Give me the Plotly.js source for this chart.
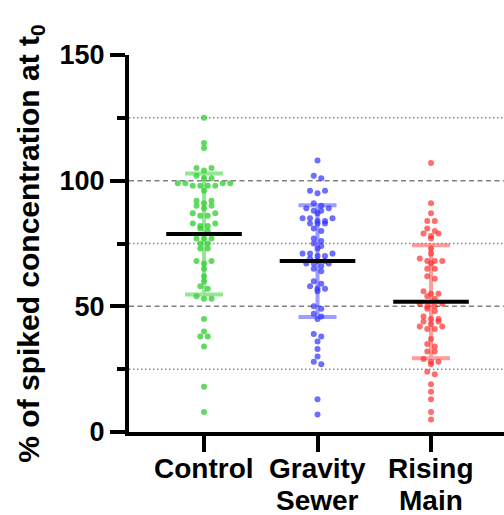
<!DOCTYPE html>
<html>
<head>
<meta charset="utf-8">
<script src="https://cdn.plot.ly/plotly-3.0.1.min.js"></script>
<style>
  html, body { margin: 0; padding: 0; background: #fff; }
  #chart { width: 504px; height: 515px; }
</style>
</head>
<body>
<div id="chart"></div>
<script>
// ---- Data (% of spiked concentration at t0) ----
const categories = ['Control', 'Gravity<br>Sewer', 'Rising<br>Main'];

const controlValues = [125, 115, 113, 105, 105, 104, 102, 101, 101, 99, 99, 99, 99, 98, 98, 98, 98,
  96, 92, 92, 91, 90, 90, 89, 87, 87, 86, 86, 83, 83, 82, 82, 81, 80, 77, 77, 77, 75, 75, 73, 73,
  68, 68, 67, 65, 62, 60, 58, 57, 54, 53, 53, 45, 40, 38, 38, 34, 18, 8];

const gravitySewerValues = [108, 102, 101, 96, 96, 95, 91, 90, 89, 89, 88, 88, 87, 85, 85, 85, 84, 84,
  83, 83, 83, 81, 80, 77, 76, 75, 74, 73, 71, 71, 71, 70, 70, 69, 68, 68, 67, 67, 67, 66, 65, 64,
  60, 59, 58, 57, 57, 56, 50, 49, 47, 46, 45, 39, 38, 36, 33, 30, 28, 27, 13, 7];

const risingMainValues = [107, 91, 87, 84, 84, 81, 80, 79, 79, 78, 77, 73, 71, 69, 68, 68, 68, 67,
  65, 65, 62, 61, 56, 55, 55, 54, 53, 51, 51, 50, 50, 49, 48, 46, 45, 45, 44, 44, 43, 42, 42, 41, 41,
  37, 35, 34, 32, 32, 29, 28, 28, 27, 24, 23, 19, 16, 13, 8, 5];

const yTickVals = [0, 50, 100, 150];
const dashedGrid = [50, 100];
const dottedGrid = [25, 75, 125];

// ---- Styles ----
const dotColors = ['rgba(45,205,45,0.75)', 'rgba(40,40,255,0.68)', 'rgba(255,40,40,0.68)'];
const barColors = ['rgba(60,210,60,0.55)', 'rgba(60,60,255,0.5)', 'rgba(255,60,60,0.5)'];
const groups = [controlValues, gravitySewerValues, risingMainValues];

const BIN = 1.5;     // values closer than this share a row in the swarm
const STEP = 0.066;  // horizontal spacing of dots within a row (x units)

function swarm(vals, center) {
  const sorted = vals.slice().sort((a, b) => b - a);
  const xs = [], ys = [];
  let i = 0;
  while (i < sorted.length) {
    const row = [sorted[i]];
    let j = i + 1;
    while (j < sorted.length && sorted[i] - sorted[j] < BIN) { row.push(sorted[j]); j++; }
    const n = row.length;
    const order = [];
    for (let k = 0; k < n; k++) order.push(k % 2 === 0 ? k / 2 : n - 1 - (k - 1) / 2);
    row.forEach((v, k) => {
      xs.push(center + (order[k] - (n - 1) / 2) * STEP);
      ys.push(v);
    });
    i = j;
  }
  return { xs, ys };
}

function mean(a) { return a.reduce((s, v) => s + v, 0) / a.length; }
function sd(a) {
  const m = mean(a);
  return Math.sqrt(a.reduce((s, v) => s + (v - m) * (v - m), 0) / (a.length - 1));
}

const traces = [];
groups.forEach((vals, g) => {
  const s = swarm(vals, g);
  traces.push({
    type: 'scatter', mode: 'markers', x: s.xs, y: s.ys,
    marker: { size: 6, color: dotColors[g], line: { width: 0 } },
    hoverinfo: 'y', showlegend: false, cliponaxis: false
  });
});
groups.forEach((vals, g) => {
  traces.push({
    type: 'scatter', mode: 'markers', x: [g], y: [mean(vals)],
    marker: { symbol: 'line-ew', size: 54, color: '#000', line: { width: 4, color: '#000' } },
    error_y: { type: 'data', array: [sd(vals)], visible: true, color: barColors[g], thickness: 4, width: 19 },
    hoverinfo: 'y', showlegend: false, cliponaxis: false
  });
});

const shapes = [];
dashedGrid.forEach(v => shapes.push({
  type: 'line', xref: 'paper', x0: 0, x1: 1, yref: 'y', y0: v, y1: v, layer: 'below',
  line: { color: '#808080', width: 1.5, dash: '5px,3.5px' }
}));
dottedGrid.forEach(v => shapes.push({
  type: 'line', xref: 'paper', x0: 0, x1: 1, yref: 'y', y0: v, y1: v, layer: 'below',
  line: { color: '#8a8a8a', width: 1.5, dash: '1.5px,2.5px' }
}));

const font = { family: 'Liberation Sans, Arial, sans-serif', color: '#000' };

// category labels as annotations (tighter line spacing than tick labels)
const annotations = [];
categories.forEach((label, g) => {
  label.split('<br>').forEach((line, k) => {
    annotations.push({
      xref: 'x', x: g, yref: 'paper', y: 0, yanchor: 'middle', xanchor: 'center',
      yshift: -36 - 32 * k, text: line, showarrow: false, borderpad: 0,
      font: Object.assign({ size: 28, weight: 700 }, font)
    });
  });
});

const layout = {
  width: 504, height: 515,
  margin: { l: 129, r: 0, t: 55, b: 83, pad: 0 },
  paper_bgcolor: '#fff', plot_bgcolor: '#fff',
  showlegend: false,
  shapes: shapes,
  annotations: annotations,
  xaxis: {
    range: [-0.661, 2.643],
    tickvals: [0, 1, 2], showticklabels: false,
    ticks: 'outside', ticklen: 16, tickwidth: 4, tickcolor: '#000',
    showline: true, linewidth: 4, linecolor: '#000',
    showgrid: false, zeroline: false
  },
  yaxis: {
    range: [0, 150],
    tickvals: yTickVals,
    ticks: 'outside', ticklen: 15, tickwidth: 4, tickcolor: '#000',
    minor: { dtick: 25, tick0: 0, ticks: 'outside', ticklen: 8, tickwidth: 4, tickcolor: '#000', showgrid: false },
    showline: true, linewidth: 4, linecolor: '#000',
    showgrid: false, zeroline: false,
    tickfont: Object.assign({ size: 27, weight: 700 }, font),
    title: { text: '% of spiked concentration at t<sub>0</sub>', font: Object.assign({ size: 30, weight: 700 }, font), standoff: 12 }
  }
};

Plotly.newPlot('chart', traces, layout, { displayModeBar: false, staticPlot: true });
</script>
</body>
</html>
